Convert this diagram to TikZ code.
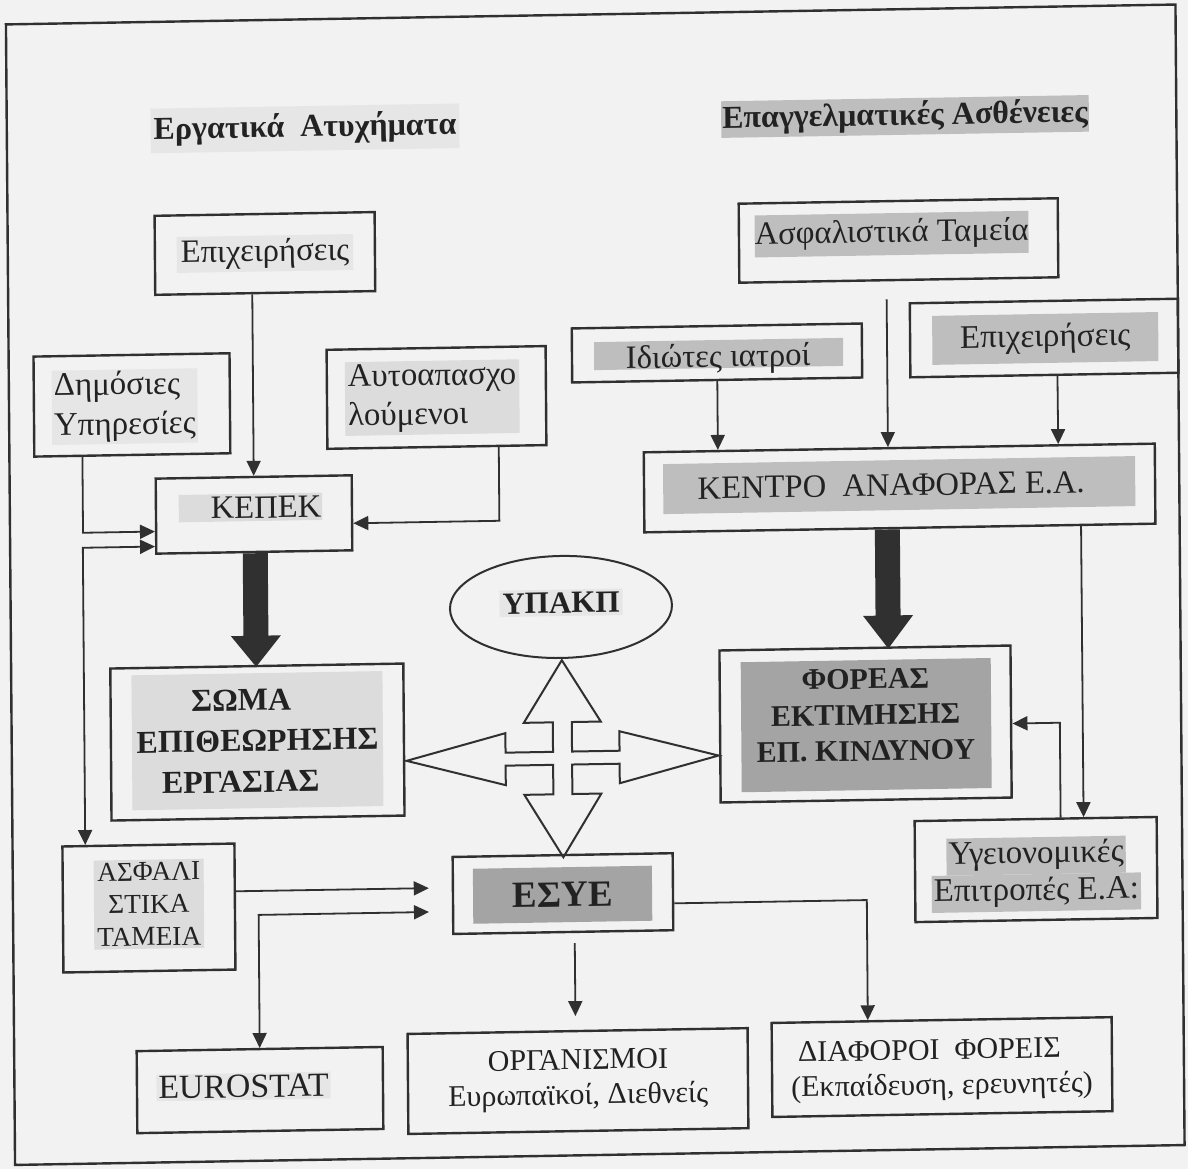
\documentclass[tikz,border=0pt]{standalone}
\usepackage{fontspec}
\setmainfont{Liberation Serif}
\usetikzlibrary{arrows.meta,calc,shapes.geometric}
\definecolor{bgc}{HTML}{F2F2F2}
\definecolor{linec}{HTML}{303030}
\definecolor{textc}{HTML}{222222}
\definecolor{hlfaint}{HTML}{E6E6E6}
\definecolor{hllight}{HTML}{DCDCDC}
\definecolor{hlmed}{HTML}{BEBEBE}
\definecolor{hldark}{HTML}{A4A4A4}
\newcommand{\fs}[2]{\fontsize{#1}{#2}\selectfont}
\newcommand{\hlline}[1]{{\setlength{\fboxsep}{0pt}\colorbox{hlmed}{\rule[-11pt]{0pt}{37pt}\hspace{2pt}#1\hspace{2pt}}}}
\begin{document}
\begin{tikzpicture}[x=1pt,y=-1pt,
  every node/.style={text=textc, font=\fs{32.6}{40}},
  box/.style={draw=linec, line width=2.4pt, inner sep=0pt},
  hl/.style={fill=#1, inner sep=0pt},
  conn/.style={draw=linec, line width=1.8pt, -{Triangle[length=15pt,width=14pt]}},
  conntwo/.style={draw=linec, line width=1.8pt, {Triangle[length=15pt,width=14pt]}-{Triangle[length=15pt,width=14pt]}},
  bigarrow/.style={fill=linec},
  crossarrow/.style={draw=linec, line width=2pt, line join=miter, fill=bgc},
  framebox/.style={draw=linec, line width=2.4pt}]
\path[use as bounding box, fill=bgc] (4.67,-10.1) rectangle (1192.67,1158.9);
\begin{scope}[cm={1,0.017,-0.008,1,(0,0)}, transform shape]
% frame
\draw[framebox] (10.5,14.5) rectangle (1180,1155);
% titles
\node[anchor=base, font=\bfseries\fs{32}{38}, fill=hlfaint, inner xsep=3pt, inner ysep=7pt] (t1) at (308.7,132) {Εργατικά\ \ Ατυχήματα};
\node[anchor=base, font=\bfseries\fs{32}{38}, fill=hlmed, inner xsep=1pt, inner ysep=3pt] (t2) at (908.7,130.3) {Επαγγελματικές Ασθένειες};
% left column
\node[box, minimum width=220pt, minimum height=79pt] (epL) at (267.6,247.9) {};
\node[hl=hlfaint, inner xsep=4pt, inner ysep=3pt] (epLt) at (epL) {Επιχειρήσεις};
\node[box, minimum width=196pt, minimum height=100pt] (dim) at (133.4,397.1) {};
\node[hl=hlfaint, inner sep=2pt, align=left, anchor=west, font=\fs{33}{40}] (dimt) at ($(dim.west)+(19,1.5)$) {Δημόσιες\\Υπηρεσίες};
\node[box, minimum width=219pt, minimum height=99pt] (aut) at (438,394.8) {};
\node[hl=hllight, inner sep=3pt, align=left, anchor=west, font=\fs{32.8}{39}] (autt) at ($(aut.west)+(19,0)$) {Αυτοαπασχο\\λούμενοι};
\node[box, minimum width=196pt, minimum height=75pt] (kepek) at (254.6,508.7) {};
\node[hl=hllight, inner xsep=1pt, inner ysep=3pt, anchor=base] (kepekt) at ($(kepek.center)+(-3.5,3.5)$) {\hspace*{31pt}ΚΕΠΕΚ};
\node[box, minimum width=293pt, minimum height=152pt] (soma) at (256.2,736.3) {};
\node[hl=hllight, minimum width=251pt, minimum height=135pt, align=left, font=\bfseries\fs{32}{41}] (somat) at ($(soma.center)+(0,-1.5)$) {\hspace*{55pt}ΣΩΜΑ\\ΕΠΙΘΕΩΡΗΣΗΣ\\\hspace*{25pt}ΕΡΓΑΣΙΑΣ};
\node[box, minimum width=172pt, minimum height=126pt] (asfali) at (146.4,900.4) {};
\node[hl=hllight, inner sep=3pt, align=center, font=\fs{27.3}{32.5}] (asfalit) at ($(asfali.center)+(0,-4)$) {ΑΣΦΑΛΙ\\ΣΤΙΚΑ\\ΤΑΜΕΙΑ};
\node[box, minimum width=246pt, minimum height=82pt] (euro) at (256,1084.3) {};
\node[hl=hlfaint, inner sep=2pt, anchor=base, font=\fs{33.8}{40}] (eurot) at ($(euro.center)+(-16.5,7)$) {EUROSTAT};
% centre
\node[draw=linec, line width=2pt, ellipse, minimum width=222pt, minimum height=102pt, inner sep=0pt] (ypakp) at (560.8,606.4) {};
\node[hl=hlfaint, font=\bfseries\fs{31}{36}, inner sep=3pt, anchor=base] (ypakpt) at ($(ypakp.center)+(0,6)$) {ΥΠΑΚΠ};
\coordinate (cross) at (561.1,757.5);
\draw[crossarrow] ($(cross)+(0,-98)$) -- ($(cross)+(38.5,-36)$) -- ($(cross)+(9.5,-36)$) -- ($(cross)+(9.5,-6.5)$) -- ($(cross)+(57,-6.5)$) -- ($(cross)+(57,-26)$) -- ($(cross)+(156,0)$) -- ($(cross)+(57,26)$) -- ($(cross)+(57,6.5)$) -- ($(cross)+(9.5,6.5)$) -- ($(cross)+(9.5,36)$) -- ($(cross)+(38.5,36)$) -- ($(cross)+(0,99)$) -- ($(cross)+(-38.5,36)$) -- ($(cross)+(-9.5,36)$) -- ($(cross)+(-9.5,6.5)$) -- ($(cross)+(-57,6.5)$) -- ($(cross)+(-57,26)$) -- ($(cross)+(-156,0)$) -- ($(cross)+(-57,-26)$) -- ($(cross)+(-57,-6.5)$) -- ($(cross)+(-9.5,-6.5)$) -- ($(cross)+(-9.5,-36)$) -- ($(cross)+(-38.5,-36)$) -- cycle;
\node[box, minimum width=220pt, minimum height=77pt] (esye) at (560.5,893) {};
\node[hl=hldark, minimum width=179pt, minimum height=55pt, font=\bfseries\fs{37}{40}] (esyet) at ($(esye.center)+(-0.5,1)$) {ΕΣΥΕ};
\node[box, minimum width=340pt, minimum height=100pt] (org) at (574,1080.7) {};
\node[align=center, font=\fs{30}{35}] (orgt) at ($(org.center)+(0,-1)$) {ΟΡΓΑΝΙΣΜΟΙ\\Ευρωπαϊκοί, Διεθνείς};
% right column
\node[box, minimum width=319pt, minimum height=79pt] (asft) at (901.2,245.7) {};
\node[hl=hlmed, minimum width=273pt, minimum height=42pt] (asftt) at ($(asft.center)+(-7,-6.5)$) {Ασφαλιστικά Ταμεία};
\node[box, minimum width=290pt, minimum height=54pt] (idi) at (718.8,355.1) {};
\node[fill=hlmed, minimum width=249pt, minimum height=28pt, inner sep=0pt] (idihl) at ($(idi.center)+(1.5,1)$) {};
\node[anchor=base, inner sep=0pt] (idit) at ($(idi.center)+(1,14)$) {Ιδιώτες ιατροί};
\node[box, minimum width=268pt, minimum height=74pt] (epR) at (1046,345.7) {};
\node[hl=hlmed, minimum width=226pt, minimum height=49pt, font=\fs{33}{40}] (epRt) at ($(epR.center)+(1,0.4)$) {Επιχειρήσεις};
\node[box, minimum width=511pt, minimum height=80pt] (kentro) at (900.3,493.2) {};
\node[hl=hlmed, minimum width=472pt, minimum height=50pt] (kentrot) at ($(kentro.center)+(-0.5,-3)$) {ΚΕΝΤΡΟ\ \ ΑΝΑΦΟΡΑΣ Ε.Α.\hspace*{16pt}};
\node[box, minimum width=291pt, minimum height=152pt] (foreas) at (864.4,728.6) {};
\node[fill=hldark, minimum width=250pt, minimum height=130pt, inner sep=0pt] (foreashl) at ($(foreas.center)+(0.5,1)$) {};
\node[align=center, font=\bfseries\fs{30}{36}, inner sep=0pt] (foreast) at ($(foreas.center)+(0,-9)$) {ΦΟΡΕΑΣ\\ΕΚΤΙΜΗΣΗΣ\\ΕΠ. ΚΙΝΔΥΝΟΥ};
\node[box, minimum width=242pt, minimum height=101pt] (ygei) at (1033.7,877) {};
\node[align=center, font=\fs{33}{37}, inner sep=0pt] (ygeit) at ($(ygei.center)+(0,4.5)$) {\hlline{Υγειονομικές}\\\hlline{Επιτροπές Ε.Α:}};
\node[box, minimum width=340pt, minimum height=94pt] (diaf) at (938.1,1072.9) {};
\node[align=left, font=\fs{30}{35}, anchor=west, inner sep=0pt] (diaft) at ($(diaf.west)+(20,3)$) {\hspace*{7pt}ΔΙΑΦΟΡΟΙ\ \ ΦΟΡΕΙΣ\\(Εκπαίδευση, ερευνητές)};
% connectors left
\draw[conn] (kepek.north |- epL.south) -- (kepek.north);
\draw[conn] ($(dim.south west)+(49.3,0)$) |- ($(kepek.west)+(0,15.3)$);
\draw[conntwo] ($(asfali.north west)+(24,0)$) |- ($(kepek.west)+(0,30.3)$);
\draw[conn] ($(aut.south)+(61.8,0)$) |- ($(kepek.east)+(0,10.4)$);
\fill[bigarrow] ($(kepek.south)+(0.9,0)$) ++(-12.5,0) -- ++(0,82.5) -- ++(-12.5,0) -- ++(25,31) -- ++(25,-31) -- ++(-12.5,0) -- ++(0,-82.5) -- cycle;
% connectors right
\draw[conn, shorten <=18pt] ($(asft.south)+(-12.5,0)$) coordinate (a1) -- (a1 |- kentro.north);
\draw[conn] (idi.south) -- (idi.south |- kentro.north);
\draw[conn] ($(epR.south)+(12.9,0)$) coordinate (a2) -- (a2 |- kentro.north);
\draw[conn] ($(kentro.south)+(181,0)$) coordinate (a3) -- (a3 |- ygei.north);
\draw[conn] ($(ygei.north)+(24.8,0)$) |- ($(foreas.east)+(0,1.9)$);
\fill[bigarrow] ($(kentro.south)+(-12.7,0)$) ++(-12.5,0) -- ++(0,86) -- ++(-12.5,0) -- ++(25,33) -- ++(25,-33) -- ++(-12.5,0) -- ++(0,-86) -- cycle;
% connectors bottom
\draw[conn, shorten >=23pt] ($(asfali.east)+(0,-15.4)$) coordinate (a5) -- (a5 -| esye.west);
\draw[conntwo, shorten >=23pt] (euro.north) |- ($(esye.west)+(0,16)$);
\draw[conn, shorten <=10pt, shorten >=14pt] ($(esye.south)+(11.3,0)$) coordinate (a4) -- (a4 |- org.north);
\draw[conn] ($(esye.east)+(0,11.5)$) -| ($(diaf.north)+(-74,0)$);
\end{scope}
\end{tikzpicture}
\end{document}
